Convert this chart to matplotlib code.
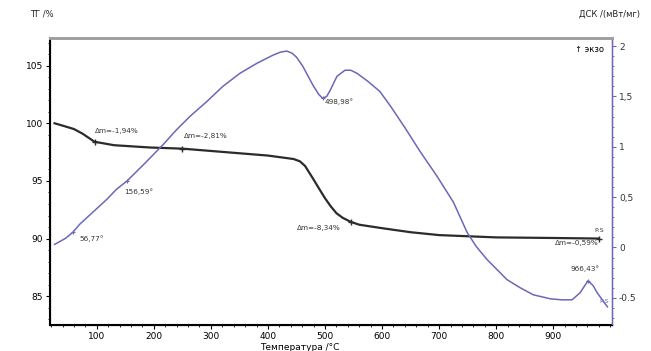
import matplotlib
matplotlib.use("Agg")
import matplotlib.pyplot as plt
from matplotlib.ticker import MultipleLocator

# TG data (temperature °C, mass %)
tg_t = [26, 40, 60, 75, 96, 130, 193, 250, 300, 350, 400, 430, 445, 456, 465, 479, 490, 500, 510,
        520, 531, 545, 560, 600, 650, 700, 750, 800, 900, 980]
tg_v = [100.0, 99.8, 99.5, 99.1, 98.4, 98.1, 97.9, 97.8, 97.6, 97.4, 97.2, 97.0, 96.9, 96.7, 96.3,
        95.2, 94.3, 93.5, 92.8, 92.2, 91.8, 91.45, 91.2, 90.9, 90.55, 90.3, 90.2, 90.1, 90.05, 90.0]

# DSC data (temperature °C, mW/mg)
dsc_t = [26, 45, 58, 70, 95, 118, 135, 153, 185, 216, 240, 263, 293, 321, 351, 381, 409, 422, 433,
         442, 450, 461, 479, 489, 496, 503, 509, 521, 535, 545, 556, 575, 596, 614, 640, 667, 696,
         725, 749, 765, 784, 819, 842, 865, 895, 915, 933, 947, 961, 970, 977, 995]
dsc_v = [0.03, 0.09, 0.15, 0.23, 0.36, 0.48, 0.58, 0.66, 0.84, 1.02, 1.17, 1.30, 1.45, 1.60, 1.73,
         1.83, 1.91, 1.94, 1.95, 1.93, 1.89, 1.80, 1.61, 1.52, 1.48, 1.50, 1.56, 1.70, 1.76, 1.76,
         1.73, 1.65, 1.55, 1.41, 1.19, 0.95, 0.71, 0.45, 0.15, 0.01, -0.12, -0.32, -0.40, -0.47,
         -0.51, -0.52, -0.52, -0.45, -0.33, -0.38, -0.45, -0.59]

x_ticks = [100, 200, 300, 400, 500, 600, 700, 800, 900]
tg_ticks = [85, 90, 95, 100, 105]
dsc_ticks = [-0.5, 0, 0.5, 1, 1.5, 2]
dsc_ticklabels = ["-0.5", "0", "0,5", "1", "1,5", "2"]

tg_notes = [(96, 98.4, "Δm=-1,94%", 96, 99.15),
            (250, 97.8, "Δm=-2,81%", 252, 98.75),
            (545, 91.4, "Δm=-8,34%", 450, 90.75),
            (980, 90.0, "Δm=-0,59%", 903, 89.4)]
dsc_notes = [(58, 0.15, "56,77°", 70, 0.06),
             (153, 0.66, "156,59°", 148, 0.53),
             (496, 1.48, "498,98°", 500, 1.42),
             (961, -0.33, "966,43°", 930, -0.23)]

TG_C = "#2b2b2b"
DSC_C = "#6a68b8"

fig = plt.figure(figsize=(6.51, 3.51), dpi=100)
ax = fig.add_axes([50/651, 1-325/351, (612-50)/651, (325-38)/351])
ax2 = ax.twinx()

ax.plot(tg_t, tg_v, color=TG_C, lw=1.6, zorder=3)
ax2.plot(dsc_t, dsc_v, color=DSC_C, lw=1.1, zorder=2)

ax.set_xlim(18, 1003)
ax.set_ylim(82.5, 107.4)
ax2.set_ylim(-0.77, 2.08)

ax.set_xticks(x_ticks)
ax.xaxis.set_minor_locator(MultipleLocator(20))
ax.set_yticks(tg_ticks)
ax.yaxis.set_minor_locator(MultipleLocator(1))
ax2.set_yticks(dsc_ticks)
ax2.set_yticklabels(dsc_ticklabels)
ax2.yaxis.set_minor_locator(MultipleLocator(0.1))

for a in (ax, ax2):
    a.tick_params(labelsize=6.5, length=3, width=0.8, pad=2)
    a.tick_params(which="minor", length=1.5, width=0.6)
ax2.tick_params(axis="y", colors="#333333", which="both")
ax2.tick_params(axis="y", color=DSC_C, which="both")

ax.spines["top"].set_color("#a0a0a0")
ax.spines["top"].set_linewidth(2.0)
ax2.spines["top"].set_color("#a0a0a0")
ax2.spines["top"].set_linewidth(2.0)
ax.spines["left"].set_linewidth(1.5)
ax.spines["bottom"].set_linewidth(1.5)
ax2.spines["right"].set_color(DSC_C)
ax2.spines["right"].set_linewidth(1.0)

for (x, y, s, tx, ty) in tg_notes:
    ax.plot([x], [y], marker="+", color=TG_C, ms=4, mew=1)
    ax.text(tx, ty, s, fontsize=5.2, color="#333333", zorder=5)
for (x, y, s, tx, ty) in dsc_notes:
    ax2.plot([x], [y], marker="+", color=DSC_C, ms=3, mew=0.8)
    ax2.text(tx, ty, s, fontsize=5.2, color="#333333", zorder=5)

ax.text(980, 90.6, "P:S", fontsize=4.5, color="#333333", ha="center")
ax2.text(990, -0.55, "P:S", fontsize=4.5, color=DSC_C, ha="center")

fig.text(30/651, 1-14/351, "ТГ /%", fontsize=6, va="center", color="#222222")
fig.text(640/651, 1-14/351, "ДСК /(мВт/мг)", fontsize=6, va="center", ha="right", color="#222222")
ax.text(0.985, 0.96, "↑ экзо", transform=ax.transAxes, fontsize=6, ha="right", va="center")
fig.text(300/651, 1-347/351, "Температура /°C", fontsize=6.5, ha="center", va="center")

fig.savefig("out.png", dpi=100)
